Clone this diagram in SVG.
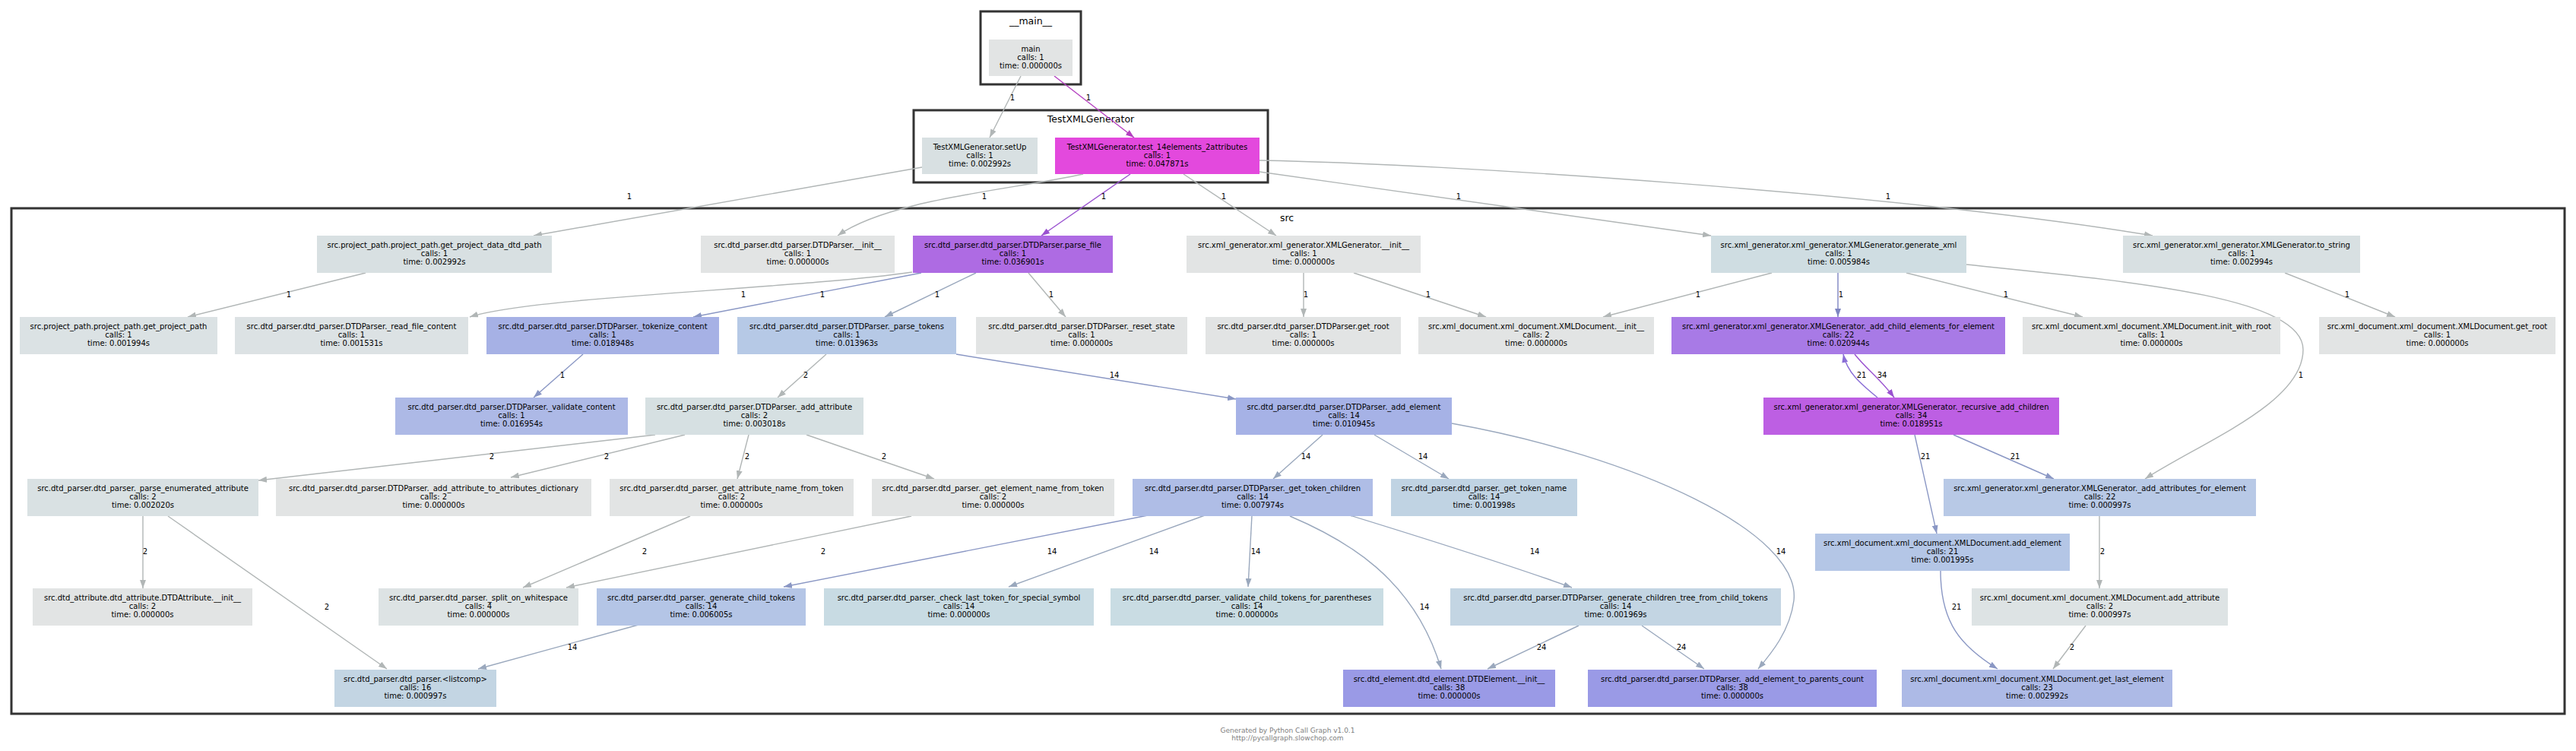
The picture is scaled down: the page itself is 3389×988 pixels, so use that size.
<svg xmlns="http://www.w3.org/2000/svg" width="3389" height="988" viewBox="0 0 3389 988">
<style>
.bg{fill:#ffffff}
.cl{fill:none;stroke:#333333;stroke-width:3}
.ct{font-family:"DejaVu Sans",Verdana,sans-serif;font-size:12.5px;text-anchor:middle;fill:#000}
.nt{font-family:"DejaVu Sans",Verdana,sans-serif;font-size:10px;text-anchor:middle;fill:#000}
.lt{font-family:"DejaVu Sans",Verdana,sans-serif;font-size:10px;text-anchor:middle;fill:#000}
.ft{font-family:"DejaVu Sans",Verdana,sans-serif;font-size:9px;text-anchor:middle;fill:#808080}
.e{fill:none;stroke-width:1.4}
.g{stroke:#b1b6b6}
.b{stroke:#8a97c4}
.bl{stroke:#9aa8bd}
.m{stroke:#b440c0}
.p{stroke:#9a52d0}
.pv{stroke:#8a6ed6}
.bp{stroke:#7e85c2}
</style>
<defs>
<marker id="ag" markerWidth="11" markerHeight="8" refX="11" refY="4" orient="auto" markerUnits="userSpaceOnUse"><path d="M0,0 L11,4 L0,8 z" fill="#b1b6b6"/></marker>
<marker id="ab" markerWidth="11" markerHeight="8" refX="11" refY="4" orient="auto" markerUnits="userSpaceOnUse"><path d="M0,0 L11,4 L0,8 z" fill="#8a97c4"/></marker>
<marker id="abl" markerWidth="11" markerHeight="8" refX="11" refY="4" orient="auto" markerUnits="userSpaceOnUse"><path d="M0,0 L11,4 L0,8 z" fill="#9aa8bd"/></marker>
<marker id="am" markerWidth="11" markerHeight="8" refX="11" refY="4" orient="auto" markerUnits="userSpaceOnUse"><path d="M0,0 L11,4 L0,8 z" fill="#b440c0"/></marker>
<marker id="ap" markerWidth="11" markerHeight="8" refX="11" refY="4" orient="auto" markerUnits="userSpaceOnUse"><path d="M0,0 L11,4 L0,8 z" fill="#9a52d0"/></marker>
<marker id="apv" markerWidth="11" markerHeight="8" refX="11" refY="4" orient="auto" markerUnits="userSpaceOnUse"><path d="M0,0 L11,4 L0,8 z" fill="#8a6ed6"/></marker>
<marker id="abp" markerWidth="11" markerHeight="8" refX="11" refY="4" orient="auto" markerUnits="userSpaceOnUse"><path d="M0,0 L11,4 L0,8 z" fill="#7e85c2"/></marker>
</defs>
<rect class="bg" x="0" y="0" width="3389" height="988"/>

<g id="clusters">
<rect class="cl" x="1290" y="15" width="132" height="96"/>
<text class="ct" x="1356" y="32">__main__</text>
<rect class="cl" x="1202" y="145" width="466" height="95"/>
<text class="ct" x="1435" y="161">TestXMLGenerator</text>
<rect class="cl" x="15" y="274" width="3359" height="665"/>
<text class="ct" x="1693" y="291">src</text>
</g>

<g id="edges">
<path class="e g" marker-end="url(#ag)" d="M1343,100 L1302,181"/>
<path class="e m" marker-end="url(#am)" d="M1387,100 L1492,181"/>
<path class="e g" marker-end="url(#ag)" d="M1213,220 L702,310"/>
<path class="e g" marker-end="url(#ag)" d="M1425,229 C1330,250 1170,262 1102,310"/>
<path class="e p" marker-end="url(#ap)" d="M1487,229 L1370,310"/>
<path class="e g" marker-end="url(#ag)" d="M1557,229 L1679,310"/>
<path class="e g" marker-end="url(#ag)" d="M1657,226 L2251,310"/>
<path class="e g" marker-end="url(#ag)" d="M1657,211 C1900,215 2500,255 2832,310"/>
<path class="e g" marker-end="url(#ag)" d="M1200,358 C1050,380 700,390 618,417"/>
<path class="e b" marker-end="url(#ab)" d="M1212,359 L912,417"/>
<path class="e bl" marker-end="url(#abl)" d="M1284,359 L1164,417"/>
<path class="e g" marker-end="url(#ag)" d="M1353,359 L1402,417"/>
<path class="e g" marker-end="url(#ag)" d="M481,359 L247,417"/>
<path class="e b" marker-end="url(#ab)" d="M767,466 L702,523"/>
<path class="e g" marker-end="url(#ag)" d="M1087,466 L1023,523"/>
<path class="e b" marker-end="url(#ab)" d="M1258,466 L1626,525"/>
<path class="e g" marker-end="url(#ag)" d="M1715,359 L1715,417"/>
<path class="e g" marker-end="url(#ag)" d="M1781,359 L1955,417"/>
<path class="e g" marker-end="url(#ag)" d="M2331,359 L2109,417"/>
<path class="e bp" marker-end="url(#abp)" d="M2418,359 L2418,417"/>
<path class="e g" marker-end="url(#ag)" d="M2508,359 L2740,417"/>
<path class="e g" marker-end="url(#ag)" d="M2587,348 C2800,370 3030,390 3030,460 C3030,530 2900,580 2822,630"/>
<path class="e g" marker-end="url(#ag)" d="M3006,359 L3151,417"/>
<path class="e p" marker-end="url(#ap)" d="M2440,466 C2455,485 2475,500 2492,523"/>
<path class="e pv" marker-end="url(#apv)" d="M2470,523 C2448,505 2430,490 2425,466"/>
<path class="e g" marker-end="url(#ag)" d="M862,572 L340,632"/>
<path class="e g" marker-end="url(#ag)" d="M901,572 L672,628"/>
<path class="e g" marker-end="url(#ag)" d="M985,572 L970,630"/>
<path class="e g" marker-end="url(#ag)" d="M1061,572 L1229,630"/>
<path class="e g" marker-end="url(#ag)" d="M188,679 L188,774"/>
<path class="e g" marker-end="url(#ag)" d="M221,679 L509,880"/>
<path class="e g" marker-end="url(#ag)" d="M908,679 L688,773"/>
<path class="e g" marker-end="url(#ag)" d="M1199,679 L745,773"/>
<path class="e bl" marker-end="url(#abl)" d="M1740,572 L1675,630"/>
<path class="e bl" marker-end="url(#abl)" d="M1808,572 L1906,630"/>
<path class="e bl" marker-end="url(#abl)" d="M1910,557 C2150,600 2370,700 2360,790 C2355,830 2330,860 2313,880"/>
<path class="e b" marker-end="url(#ab)" d="M1510,678 L1031,772"/>
<path class="e bl" marker-end="url(#abl)" d="M1585,678 L1327,772"/>
<path class="e bl" marker-end="url(#abl)" d="M1647,678 L1642,772"/>
<path class="e bl" marker-end="url(#abl)" d="M1697,679 C1770,710 1860,760 1896,880"/>
<path class="e bl" marker-end="url(#abl)" d="M1776,678 C1880,710 1990,745 2068,773"/>
<path class="e bl" marker-end="url(#abl)" d="M840,822 L629,880"/>
<path class="e bl" marker-end="url(#abl)" d="M2077,823 L1957,880"/>
<path class="e bl" marker-end="url(#abl)" d="M2160,823 L2242,880"/>
<path class="e b" marker-end="url(#ab)" d="M2519,572 L2548,702"/>
<path class="e b" marker-end="url(#ab)" d="M2570,572 L2702,630"/>
<path class="e g" marker-end="url(#ag)" d="M2762,679 L2762,774"/>
<path class="e b" marker-end="url(#ab)" d="M2553,751 C2553,820 2580,850 2628,880"/>
<path class="e g" marker-end="url(#ag)" d="M2744,823 L2701,880"/>
</g>

<g id="edge-labels">
<text class="lt" x="1332" y="131.5">1</text>
<text class="lt" x="1432" y="131.5">1</text>
<text class="lt" x="828" y="261.5">1</text>
<text class="lt" x="1295" y="261.5">1</text>
<text class="lt" x="1452" y="261.5">1</text>
<text class="lt" x="1610" y="261.5">1</text>
<text class="lt" x="1919" y="261.5">1</text>
<text class="lt" x="2484" y="261.5">1</text>
<text class="lt" x="978" y="390.5">1</text>
<text class="lt" x="1082" y="390.5">1</text>
<text class="lt" x="1233" y="390.5">1</text>
<text class="lt" x="1383" y="390.5">1</text>
<text class="lt" x="380" y="390.5">1</text>
<text class="lt" x="740" y="496.5">1</text>
<text class="lt" x="1060" y="496.5">2</text>
<text class="lt" x="1466" y="496.5">14</text>
<text class="lt" x="1718" y="390.5">1</text>
<text class="lt" x="1879" y="390.5">1</text>
<text class="lt" x="2234" y="390.5">1</text>
<text class="lt" x="2422" y="390.5">1</text>
<text class="lt" x="2639" y="390.5">1</text>
<text class="lt" x="3027" y="496.5">1</text>
<text class="lt" x="3088" y="390.5">1</text>
<text class="lt" x="2476" y="496.5">34</text>
<text class="lt" x="2449" y="496.5">21</text>
<text class="lt" x="647" y="603.5">2</text>
<text class="lt" x="798" y="603.5">2</text>
<text class="lt" x="983" y="603.5">2</text>
<text class="lt" x="1163" y="603.5">2</text>
<text class="lt" x="191" y="728.5">2</text>
<text class="lt" x="430" y="801.5">2</text>
<text class="lt" x="848" y="728.5">2</text>
<text class="lt" x="1083" y="728.5">2</text>
<text class="lt" x="1718" y="603.5">14</text>
<text class="lt" x="1872" y="603.5">14</text>
<text class="lt" x="2343" y="728.5">14</text>
<text class="lt" x="1384" y="728.5">14</text>
<text class="lt" x="1518" y="728.5">14</text>
<text class="lt" x="1652" y="728.5">14</text>
<text class="lt" x="1874" y="801.5">14</text>
<text class="lt" x="2019" y="728.5">14</text>
<text class="lt" x="753" y="854.5">14</text>
<text class="lt" x="2028" y="854.5">24</text>
<text class="lt" x="2212" y="854.5">24</text>
<text class="lt" x="2533" y="603.5">21</text>
<text class="lt" x="2651" y="603.5">21</text>
<text class="lt" x="2766" y="728.5">2</text>
<text class="lt" x="2574" y="801.5">21</text>
<text class="lt" x="2726" y="854.5">2</text>
</g>

<g id="n_main"><rect x="1301" y="52" width="110" height="48" fill="#e2e4e4"/><text class="nt" x="1356" y="68">main<tspan x="1356" dy="11">calls: 1</tspan><tspan x="1356" dy="11">time: 0.000000s</tspan></text></g>
<g id="n_setUp"><rect x="1213" y="181" width="152" height="48" fill="#d8e0e2"/><text class="nt" x="1289" y="197">TestXMLGenerator.setUp<tspan x="1289" dy="11">calls: 1</tspan><tspan x="1289" dy="11">time: 0.002992s</tspan></text></g>
<g id="n_test"><rect x="1388" y="181" width="269" height="48" fill="#e349dd"/><text class="nt" x="1522.5" y="197">TestXMLGenerator.test_14elements_2attributes<tspan x="1522.5" dy="11">calls: 1</tspan><tspan x="1522.5" dy="11">time: 0.047871s</tspan></text></g>

<g id="n_get_project_data_dtd_path"><rect x="417" y="310" width="309" height="49" fill="#d8e0e2"/><text class="nt" x="571.5" y="326">src.project_path.project_path.get_project_data_dtd_path<tspan x="571.5" dy="11">calls: 1</tspan><tspan x="571.5" dy="11">time: 0.002992s</tspan></text></g>
<g id="n_dtdparser_init"><rect x="922" y="310" width="255" height="49" fill="#e2e4e4"/><text class="nt" x="1049.5" y="326">src.dtd_parser.dtd_parser.DTDParser.__init__<tspan x="1049.5" dy="11">calls: 1</tspan><tspan x="1049.5" dy="11">time: 0.000000s</tspan></text></g>
<g id="n_parse_file"><rect x="1201" y="310" width="263" height="49" fill="#ae6be3"/><text class="nt" x="1332.5" y="326">src.dtd_parser.dtd_parser.DTDParser.parse_file<tspan x="1332.5" dy="11">calls: 1</tspan><tspan x="1332.5" dy="11">time: 0.036901s</tspan></text></g>
<g id="n_xmlgen_init"><rect x="1561" y="310" width="308" height="49" fill="#e2e4e4"/><text class="nt" x="1715" y="326">src.xml_generator.xml_generator.XMLGenerator.__init__<tspan x="1715" dy="11">calls: 1</tspan><tspan x="1715" dy="11">time: 0.000000s</tspan></text></g>
<g id="n_generate_xml"><rect x="2251" y="310" width="336" height="49" fill="#cfdde2"/><text class="nt" x="2419" y="326">src.xml_generator.xml_generator.XMLGenerator.generate_xml<tspan x="2419" dy="11">calls: 1</tspan><tspan x="2419" dy="11">time: 0.005984s</tspan></text></g>
<g id="n_to_string"><rect x="2793" y="310" width="312" height="49" fill="#d8e0e2"/><text class="nt" x="2949" y="326">src.xml_generator.xml_generator.XMLGenerator.to_string<tspan x="2949" dy="11">calls: 1</tspan><tspan x="2949" dy="11">time: 0.002994s</tspan></text></g>

<g id="n_get_project_path"><rect x="26" y="417" width="260" height="49" fill="#dbe2e4"/><text class="nt" x="156" y="433">src.project_path.project_path.get_project_path<tspan x="156" dy="11">calls: 1</tspan><tspan x="156" dy="11">time: 0.001994s</tspan></text></g>
<g id="n_read_file_content"><rect x="309" y="417" width="307" height="49" fill="#dce2e4"/><text class="nt" x="462.5" y="433">src.dtd_parser.dtd_parser.DTDParser._read_file_content<tspan x="462.5" dy="11">calls: 1</tspan><tspan x="462.5" dy="11">time: 0.001531s</tspan></text></g>
<g id="n_tokenize_content"><rect x="640" y="417" width="306" height="49" fill="#a6b1e5"/><text class="nt" x="793" y="433">src.dtd_parser.dtd_parser.DTDParser._tokenize_content<tspan x="793" dy="11">calls: 1</tspan><tspan x="793" dy="11">time: 0.018948s</tspan></text></g>
<g id="n_parse_tokens"><rect x="970" y="417" width="288" height="49" fill="#b6c9e6"/><text class="nt" x="1114" y="433">src.dtd_parser.dtd_parser.DTDParser._parse_tokens<tspan x="1114" dy="11">calls: 1</tspan><tspan x="1114" dy="11">time: 0.013963s</tspan></text></g>
<g id="n_reset_state"><rect x="1284" y="417" width="278" height="49" fill="#e2e4e4"/><text class="nt" x="1423" y="433">src.dtd_parser.dtd_parser.DTDParser._reset_state<tspan x="1423" dy="11">calls: 1</tspan><tspan x="1423" dy="11">time: 0.000000s</tspan></text></g>
<g id="n_dtd_get_root"><rect x="1586" y="417" width="257" height="49" fill="#e2e4e4"/><text class="nt" x="1714.5" y="433">src.dtd_parser.dtd_parser.DTDParser.get_root<tspan x="1714.5" dy="11">calls: 1</tspan><tspan x="1714.5" dy="11">time: 0.000000s</tspan></text></g>
<g id="n_xmldoc_init"><rect x="1866" y="417" width="310" height="49" fill="#e2e4e4"/><text class="nt" x="2021" y="433">src.xml_document.xml_document.XMLDocument.__init__<tspan x="2021" dy="11">calls: 2</tspan><tspan x="2021" dy="11">time: 0.000000s</tspan></text></g>
<g id="n_add_child_elements"><rect x="2199" y="417" width="439" height="49" fill="#a87ae6"/><text class="nt" x="2418.5" y="433">src.xml_generator.xml_generator.XMLGenerator._add_child_elements_for_element<tspan x="2418.5" dy="11">calls: 22</tspan><tspan x="2418.5" dy="11">time: 0.020944s</tspan></text></g>
<g id="n_init_with_root"><rect x="2661" y="417" width="339" height="49" fill="#e2e4e4"/><text class="nt" x="2830.5" y="433">src.xml_document.xml_document.XMLDocument.init_with_root<tspan x="2830.5" dy="11">calls: 1</tspan><tspan x="2830.5" dy="11">time: 0.000000s</tspan></text></g>
<g id="n_xmldoc_get_root"><rect x="3051" y="417" width="311" height="49" fill="#e2e4e4"/><text class="nt" x="3206.5" y="433">src.xml_document.xml_document.XMLDocument.get_root<tspan x="3206.5" dy="11">calls: 1</tspan><tspan x="3206.5" dy="11">time: 0.000000s</tspan></text></g>

<g id="n_validate_content"><rect x="520" y="523" width="306" height="49" fill="#adb9e6"/><text class="nt" x="673" y="539">src.dtd_parser.dtd_parser.DTDParser._validate_content<tspan x="673" dy="11">calls: 1</tspan><tspan x="673" dy="11">time: 0.016954s</tspan></text></g>
<g id="n_add_attribute_dtd"><rect x="849" y="523" width="287" height="49" fill="#d6e0e2"/><text class="nt" x="992.5" y="539">src.dtd_parser.dtd_parser.DTDParser._add_attribute<tspan x="992.5" dy="11">calls: 2</tspan><tspan x="992.5" dy="11">time: 0.003018s</tspan></text></g>
<g id="n_add_element_dtd"><rect x="1626" y="523" width="284" height="49" fill="#a6b2e6"/><text class="nt" x="1768" y="539">src.dtd_parser.dtd_parser.DTDParser._add_element<tspan x="1768" dy="11">calls: 14</tspan><tspan x="1768" dy="11">time: 0.010945s</tspan></text></g>
<g id="n_recursive_add_children"><rect x="2320" y="523" width="389" height="49" fill="#bd5fe3"/><text class="nt" x="2514.5" y="539">src.xml_generator.xml_generator.XMLGenerator._recursive_add_children<tspan x="2514.5" dy="11">calls: 34</tspan><tspan x="2514.5" dy="11">time: 0.018951s</tspan></text></g>

<g id="n_parse_enumerated_attribute"><rect x="36" y="630" width="304" height="49" fill="#d9e1e3"/><text class="nt" x="188" y="646">src.dtd_parser.dtd_parser._parse_enumerated_attribute<tspan x="188" dy="11">calls: 2</tspan><tspan x="188" dy="11">time: 0.002020s</tspan></text></g>
<g id="n_add_attribute_to_dict"><rect x="363" y="630" width="415" height="49" fill="#e2e4e4"/><text class="nt" x="570.5" y="646">src.dtd_parser.dtd_parser.DTDParser._add_attribute_to_attributes_dictionary<tspan x="570.5" dy="11">calls: 2</tspan><tspan x="570.5" dy="11">time: 0.000000s</tspan></text></g>
<g id="n_get_attribute_name"><rect x="802" y="630" width="321" height="49" fill="#e2e4e4"/><text class="nt" x="962.5" y="646">src.dtd_parser.dtd_parser._get_attribute_name_from_token<tspan x="962.5" dy="11">calls: 2</tspan><tspan x="962.5" dy="11">time: 0.000000s</tspan></text></g>
<g id="n_get_element_name"><rect x="1147" y="630" width="319" height="49" fill="#e2e4e4"/><text class="nt" x="1306.5" y="646">src.dtd_parser.dtd_parser._get_element_name_from_token<tspan x="1306.5" dy="11">calls: 2</tspan><tspan x="1306.5" dy="11">time: 0.000000s</tspan></text></g>
<g id="n_get_token_children"><rect x="1490" y="630" width="316" height="49" fill="#afbde6"/><text class="nt" x="1648" y="646">src.dtd_parser.dtd_parser.DTDParser._get_token_children<tspan x="1648" dy="11">calls: 14</tspan><tspan x="1648" dy="11">time: 0.007974s</tspan></text></g>
<g id="n_get_token_name"><rect x="1830" y="630" width="245" height="49" fill="#c0d3e3"/><text class="nt" x="1952.5" y="646">src.dtd_parser.dtd_parser._get_token_name<tspan x="1952.5" dy="11">calls: 14</tspan><tspan x="1952.5" dy="11">time: 0.001998s</tspan></text></g>
<g id="n_add_attributes_for_element"><rect x="2557" y="630" width="411" height="49" fill="#b8c9e6"/><text class="nt" x="2762.5" y="646">src.xml_generator.xml_generator.XMLGenerator._add_attributes_for_element<tspan x="2762.5" dy="11">calls: 22</tspan><tspan x="2762.5" dy="11">time: 0.000997s</tspan></text></g>

<g id="n_xmldoc_add_element"><rect x="2388" y="702" width="335" height="49" fill="#b4c6e6"/><text class="nt" x="2555.5" y="718">src.xml_document.xml_document.XMLDocument.add_element<tspan x="2555.5" dy="11">calls: 21</tspan><tspan x="2555.5" dy="11">time: 0.001995s</tspan></text></g>

<g id="n_dtdattribute_init"><rect x="43" y="774" width="289" height="49" fill="#e2e4e4"/><text class="nt" x="187.5" y="790">src.dtd_attribute.dtd_attribute.DTDAttribute.__init__<tspan x="187.5" dy="11">calls: 2</tspan><tspan x="187.5" dy="11">time: 0.000000s</tspan></text></g>
<g id="n_split_on_whitespace"><rect x="498" y="774" width="263" height="49" fill="#dde3e4"/><text class="nt" x="629.5" y="790">src.dtd_parser.dtd_parser._split_on_whitespace<tspan x="629.5" dy="11">calls: 4</tspan><tspan x="629.5" dy="11">time: 0.000000s</tspan></text></g>
<g id="n_generate_child_tokens"><rect x="785" y="774" width="275" height="49" fill="#b4c5e6"/><text class="nt" x="922.5" y="790">src.dtd_parser.dtd_parser._generate_child_tokens<tspan x="922.5" dy="11">calls: 14</tspan><tspan x="922.5" dy="11">time: 0.006005s</tspan></text></g>
<g id="n_check_last_token"><rect x="1084" y="774" width="355" height="49" fill="#c8dbe3"/><text class="nt" x="1261.5" y="790">src.dtd_parser.dtd_parser._check_last_token_for_special_symbol<tspan x="1261.5" dy="11">calls: 14</tspan><tspan x="1261.5" dy="11">time: 0.000000s</tspan></text></g>
<g id="n_validate_child_tokens"><rect x="1461" y="774" width="359" height="49" fill="#c9dce3"/><text class="nt" x="1640.5" y="790">src.dtd_parser.dtd_parser._validate_child_tokens_for_parentheses<tspan x="1640.5" dy="11">calls: 14</tspan><tspan x="1640.5" dy="11">time: 0.000000s</tspan></text></g>
<g id="n_generate_children_tree"><rect x="1908" y="774" width="435" height="49" fill="#c3d5e3"/><text class="nt" x="2125.5" y="790">src.dtd_parser.dtd_parser.DTDParser._generate_children_tree_from_child_tokens<tspan x="2125.5" dy="11">calls: 14</tspan><tspan x="2125.5" dy="11">time: 0.001969s</tspan></text></g>
<g id="n_xmldoc_add_attribute"><rect x="2594" y="774" width="337" height="49" fill="#dde3e4"/><text class="nt" x="2762.5" y="790">src.xml_document.xml_document.XMLDocument.add_attribute<tspan x="2762.5" dy="11">calls: 2</tspan><tspan x="2762.5" dy="11">time: 0.000997s</tspan></text></g>

<g id="n_listcomp"><rect x="440" y="881" width="213" height="49" fill="#c3d5e3"/><text class="nt" x="546.5" y="897">src.dtd_parser.dtd_parser.&lt;listcomp&gt;<tspan x="546.5" dy="11">calls: 16</tspan><tspan x="546.5" dy="11">time: 0.000997s</tspan></text></g>
<g id="n_dtdelement_init"><rect x="1767" y="881" width="279" height="49" fill="#9a9ae6"/><text class="nt" x="1906.5" y="897">src.dtd_element.dtd_element.DTDElement.__init__<tspan x="1906.5" dy="11">calls: 38</tspan><tspan x="1906.5" dy="11">time: 0.000000s</tspan></text></g>
<g id="n_add_element_to_parents_count"><rect x="2089" y="881" width="380" height="49" fill="#9a9ae6"/><text class="nt" x="2279" y="897">src.dtd_parser.dtd_parser.DTDParser._add_element_to_parents_count<tspan x="2279" dy="11">calls: 38</tspan><tspan x="2279" dy="11">time: 0.000000s</tspan></text></g>
<g id="n_get_last_element"><rect x="2502" y="881" width="356" height="49" fill="#adbae6"/><text class="nt" x="2680" y="897">src.xml_document.xml_document.XMLDocument.get_last_element<tspan x="2680" dy="11">calls: 23</tspan><tspan x="2680" dy="11">time: 0.002992s</tspan></text></g>

<g id="footer">
<text class="ft" x="1694" y="964">Generated by Python Call Graph v1.0.1</text>
<text class="ft" x="1694" y="974">http://pycallgraph.slowchop.com</text>
</g>
</svg>
